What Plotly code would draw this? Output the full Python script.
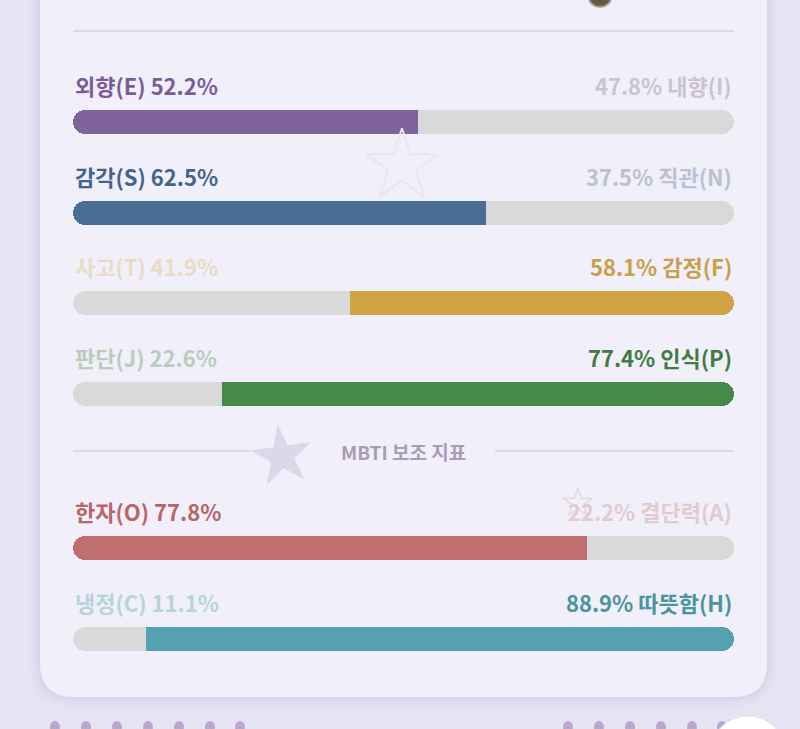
import plotly.graph_objects as go

# ---- data ----
left_labels = ["외향(E)", "감각(S)", "사고(T)", "판단(J)", "한자(O)", "냉정(C)"]
left_values = [52.2, 62.5, 41.9, 22.6, 77.8, 11.1]
right_labels = ["내향(I)", "직관(N)", "감정(F)", "인식(P)", "결단력(A)", "따뜻함(H)"]
right_values = [47.8, 37.5, 58.1, 77.4, 22.2, 88.9]
section_title = "MBTI 보조 지표"

# ---- style ----
row_y = [122, 213, 303, 394, 548, 639]          # pixel rows
main_colors = ["#80639A", "#4A6D94", "#D0A345", "#468A4A", "#C06E6F", "#53A1B1"]
text_colors = ["#7A5C96", "#44648B", "#C9A04A", "#3F7C42", "#B96668", "#4A949E"]
faded_colors = ["#CAC3D6", "#B9C1D3", "#EADCC3", "#B9CDBB", "#E2CBD0", "#B5D4DC"]
track = "#D9D9D9"
BG = "#E6E3F3"
CARD = "#F1EFF9"
W, H = 800, 729
X0, X1 = 73, 734
scale = (X1 - X0) / 100.0
xr = [-X0 / scale, (W - X0) / scale]
R = 12 / scale   # corner radius in data units

fig = go.Figure()

# decorative stars (behind bars)
fig.add_trace(go.Scatter(x=[(402 - X0) / scale], y=[166], mode="markers",
                         marker=dict(symbol="star-open", size=54, color="#E9E6F2",
                                     line=dict(width=2, color="#E9E6F2")),
                         hoverinfo="skip", showlegend=False))
fig.add_trace(go.Scatter(x=[(282 - X0) / scale], y=[456], mode="markers",
                         marker=dict(symbol="star", size=46, color="#DCD8EA", angle=-8,
                                     line=dict(width=0)),
                         hoverinfo="skip", showlegend=False))
fig.add_trace(go.Scatter(x=[(578 - X0) / scale], y=[503], mode="markers",
                         marker=dict(symbol="star-open", size=22, color="#E2D8E0",
                                     line=dict(width=1.5, color="#E2D8E0")),
                         hoverinfo="skip", showlegend=False))

left_cols = [main_colors[i] if left_values[i] > right_values[i] else track for i in range(6)]
right_cols = [main_colors[i] if right_values[i] > left_values[i] else track for i in range(6)]

# rounded segments
fig.add_trace(go.Bar(
    orientation="h", y=row_y, x=left_values, base=[0] * 6,
    width=24, marker=dict(color=left_cols, line=dict(width=0), cornerradius=12),
    hoverinfo="skip", showlegend=False))
fig.add_trace(go.Bar(
    orientation="h", y=row_y, x=right_values, base=left_values,
    width=24, marker=dict(color=right_cols, line=dict(width=0), cornerradius=12),
    hoverinfo="skip", showlegend=False))
# square joins at the split point
fig.add_trace(go.Bar(
    orientation="h", y=row_y, x=[v - R for v in left_values], base=[R] * 6,
    width=24, marker=dict(color=left_cols, line=dict(width=0), cornerradius=0),
    hoverinfo="skip", showlegend=False))
fig.add_trace(go.Bar(
    orientation="h", y=row_y, x=[v - R for v in right_values], base=left_values,
    width=24, marker=dict(color=right_cols, line=dict(width=0), cornerradius=0),
    hoverinfo="skip", showlegend=False))

shapes = []
def rr(x0, y0, x1, y1, r):
    return (f"M{x0/W},{1-y0/H} L{x1/W},{1-y0/H} L{x1/W},{1-(y1-r)/H} "
            f"Q{x1/W},{1-y1/H} {(x1-r)/W},{1-y1/H} L{(x0+r)/W},{1-y1/H} "
            f"Q{x0/W},{1-y1/H} {x0/W},{1-(y1-r)/H} Z")
for d, a in [(10, 0.025), (7, 0.03), (4, 0.04), (2, 0.05)]:
    shapes.append(dict(type="path", xref="paper", yref="paper",
                       path=rr(40 - d, -40, 767 + d, 697 + d, 34 + d),
                       fillcolor=f"rgba(150,140,190,{a})", line=dict(width=0), layer="below"))
shapes.append(dict(type="path", xref="paper", yref="paper", path=rr(40, -40, 767, 697, 34),
                   fillcolor=CARD, line=dict(width=0), layer="below"))
shapes.append(dict(type="line", xref="x", yref="y", x0=0, x1=100, y0=31, y1=31,
                   line=dict(color="#DCD8E6", width=2), layer="below"))
shapes.append(dict(type="line", xref="x", yref="y", x0=0, x1=(250 - X0) / scale, y0=451, y1=451,
                   line=dict(color="#DCD8E6", width=2), layer="below"))
shapes.append(dict(type="line", xref="x", yref="y", x0=(495 - X0) / scale, x1=100, y0=451, y1=451,
                   line=dict(color="#DCD8E6", width=2), layer="below"))
shapes.append(dict(type="circle", xref="paper", yref="paper",
                   x0=589 / W, x1=611 / W, y0=1 - 7 / H, y1=1 + 12 / H,
                   fillcolor="#5E5A45", line=dict(color="#A9A48A", width=2)))
for px in [55, 86, 117, 148, 179, 210, 240, 568, 599, 630, 661, 692, 722]:
    shapes.append(dict(type="circle", xref="paper", yref="paper",
                       x0=(px - 5) / W, x1=(px + 5) / W, y0=1 - 733 / H, y1=1 - 721 / H,
                       fillcolor="#B9A8CE", line=dict(width=0), layer="below"))
shapes.append(dict(type="circle", xref="paper", yref="paper",
                   x0=710 / W, x1=786 / W, y0=1 - 792 / H, y1=1 - 716 / H,
                   fillcolor="#FFFFFF", line=dict(color="#E4E0EE", width=1)))

annotations = []
FONT = "Noto Sans CJK KR, Noto Sans, sans-serif"
for i in range(6):
    lv, rv = left_values[i], right_values[i]
    lc = text_colors[i] if lv > rv else faded_colors[i]
    rc = text_colors[i] if rv > lv else faded_colors[i]
    ty = row_y[i] - 37
    annotations.append(dict(x=0, y=ty, xref="x", yref="y", xanchor="left", yanchor="middle",
                            text=f"{left_labels[i]} {lv:.1f}%", showarrow=False,
                            font=dict(family=FONT, size=22, color=lc, weight=700)))
    annotations.append(dict(x=100, y=ty, xref="x", yref="y", xanchor="right", yanchor="middle",
                            text=f"{rv:.1f}% {right_labels[i]}", showarrow=False,
                            font=dict(family=FONT, size=22, color=rc, weight=700)))
annotations.append(dict(x=(403 - X0) / scale, y=451, xref="x", yref="y", xanchor="center",
                        yanchor="middle", text=section_title, showarrow=False,
                        font=dict(family=FONT, size=19, color="#A99DB6", weight=600)))

fig.update_layout(
    width=W, height=H, margin=dict(l=0, r=0, t=0, b=0),
    paper_bgcolor=BG, plot_bgcolor="rgba(0,0,0,0)",
    barmode="overlay", bargap=0,
    xaxis=dict(range=xr, visible=False, fixedrange=True),
    yaxis=dict(range=[H, 0], visible=False, fixedrange=True),
    shapes=shapes, annotations=annotations, showlegend=False,
)
fig.write_html("out.html", config={"displayModeBar": False},
               post_script="document.body.style.margin='0';document.body.style.overflow='hidden';")
